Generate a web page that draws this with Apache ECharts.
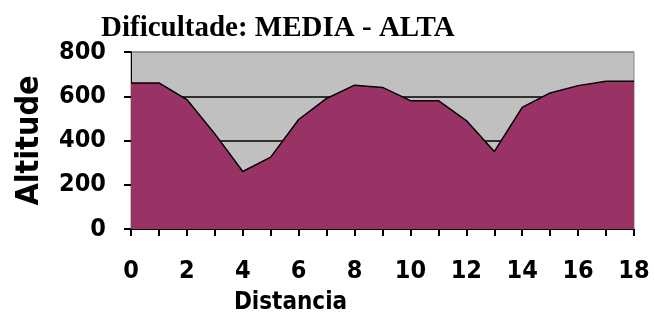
<!DOCTYPE html>
<html>
<head>
    <meta charset="utf-8">
    <title>ECharts</title>
    <script type="text/javascript" src="https://cdn.jsdelivr.net/npm/echarts@6/dist/echarts.min.js"></script>
    <style>
        body { margin: 0; background: #fff; }
    </style>
</head>
<body>
<div id="main" style="width: 654px;height:314px;"></div>
<script type="text/javascript">
    // distancia (km) e altitude (m)
    var distancia = ['0', '1', '2', '3', '4', '5', '6', '7', '8', '9', '10', '11', '12', '13', '14', '15', '16', '17', '18'];
    var altitude = [660, 660, 585, 430, 260, 325, 495, 590, 650, 640, 580, 580, 490, 350, 550, 615, 648, 668, 668];
    var yTicks = [0, 200, 400, 600, 800];

    var labelFont = {
        fontFamily: 'DejaVu Sans Condensed',
        fontWeight: 'bold',
        color: '#000'
    };

    var myChart = echarts.init(document.getElementById('main'));

    var option = {
        animation: false,
        title: {
            text: 'Dificultade: MEDIA - ALTA',
            left: 96,
            top: 9,
            textStyle: {
                fontFamily: 'Liberation Serif',
                fontWeight: 'bold',
                fontSize: 29,
                color: '#000'
            }
        },
        grid: {
            left: 131,
            right: 20,
            top: 52,
            bottom: 85,
            outerBoundsMode: 'none',
            show: true,
            backgroundColor: '#c0c0c0',
            borderColor: '#8a8a8a',
            borderWidth: 1
        },
        xAxis: {
            type: 'category',
            data: distancia,
            boundaryGap: false,
            name: 'Distancia',
            nameLocation: 'middle',
            nameGap: 62,
            nameTextStyle: Object.assign({ fontSize: 24, padding: [0, 184, 0, 0] }, labelFont),
            axisLine: { lineStyle: { color: '#000', width: 1 } },
            axisTick: { interval: 0, length: 7, lineStyle: { color: '#000', width: 2 } },
            axisLabel: Object.assign({ interval: 1, margin: 30, fontSize: 25 }, labelFont),
            splitLine: { show: false }
        },
        yAxis: {
            type: 'value',
            min: yTicks[0],
            max: yTicks[yTicks.length - 1],
            interval: 200,
            name: 'Altitude',
            nameLocation: 'middle',
            nameRotate: 90,
            nameGap: 85,
            nameTextStyle: Object.assign({ fontSize: 32 }, labelFont),
            axisLine: { show: true, lineStyle: { color: '#000', width: 1 } },
            axisTick: { show: true, length: 7, lineStyle: { color: '#000', width: 2 } },
            axisLabel: Object.assign({ margin: 25, fontSize: 25 }, labelFont),
            splitLine: {
                show: true,
                lineStyle: { color: ['#000', '#000', '#000', '#000', '#8a8a8a'], width: 1.5 }
            }
        },
        series: [{
            type: 'line',
            data: altitude,
            symbol: 'none',
            lineStyle: { color: '#000', width: 1.5 },
            areaStyle: { color: '#993366', opacity: 1 }
        }]
    };

    myChart.setOption(option);
</script>
</body>
</html>
